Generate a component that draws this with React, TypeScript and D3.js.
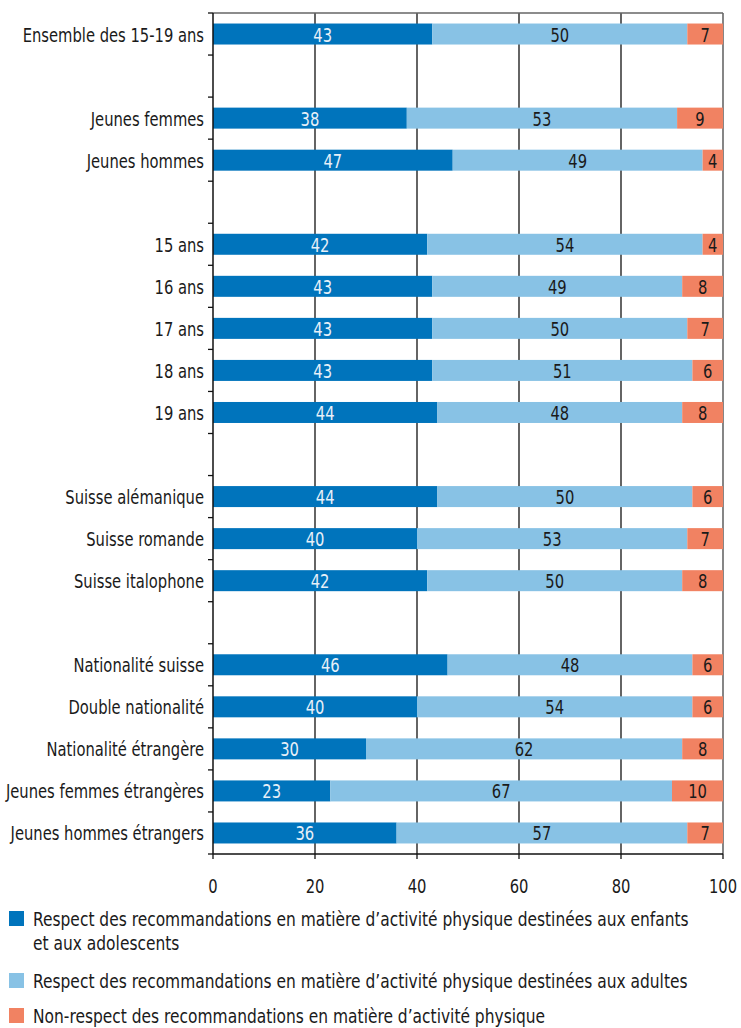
import React from "react";
import * as d3 from "d3";

const categories = [
  "Ensemble des 15-19 ans",
  "",
  "Jeunes femmes",
  "Jeunes hommes",
  "",
  "15 ans",
  "16 ans",
  "17 ans",
  "18 ans",
  "19 ans",
  "",
  "Suisse alémanique",
  "Suisse romande",
  "Suisse italophone",
  "",
  "Nationalité suisse",
  "Double nationalité",
  "Nationalité étrangère",
  "Jeunes femmes étrangères",
  "Jeunes hommes étrangers",
];
const enfants = [43, null, 38, 47, null, 42, 43, 43, 43, 44, null, 44, 40, 42, null, 46, 40, 30, 23, 36];
const adultes = [50, null, 53, 49, null, 54, 49, 50, 51, 48, null, 50, 53, 50, null, 48, 54, 62, 67, 57];
const nonRespect = [7, null, 9, 4, null, 4, 8, 7, 6, 8, null, 6, 7, 8, null, 6, 6, 8, 10, 7];
const xTicks = [0, 20, 40, 60, 80, 100];
const seriesNames = [
  ["Respect des recommandations en matière d’activité physique destinées aux enfants", "et aux adolescents"],
  ["Respect des recommandations en matière d’activité physique destinées aux adultes"],
  ["Non-respect des recommandations en matière d’activité physique"],
];
const colors = ["#0074BC", "#88C2E5", "#F18262"];
const labelColors = ["#E8F0F8", "#1a1a1a", "#1a1a1a"];

const FONT = "'DejaVu Sans Condensed', 'DejaVu Sans', sans-serif";

function T({ x, y, sx, anchor, fill, children }: { x: number; y: number; sx: number; anchor?: string; fill?: string; children: React.ReactNode }) {
  return (
    <text
      transform={`translate(${x},${y}) scale(${sx},1)`}
      textAnchor={anchor || "start"}
      fontSize={20}
      fill={fill || "#1a1a1a"}
    >
      {children}
    </text>
  );
}

export default function App() {
  const W = 741, H = 1028;
  const left = 213, right = 723, top = 13, bottom = 854;
  const x = d3.scaleLinear().domain([0, 100]).range([left, right]);
  const y = d3.scaleBand<number>().domain(d3.range(categories.length)).range([top, bottom]).paddingInner(0).paddingOuter(0);
  const bw = 21;
  const series = [enfants, adultes, nonRespect];
  const sxLab = 0.82, sxNum = 0.82, sxLeg = 0.86;

  return (
    <svg width={W} height={H} style={{ position: "absolute", left: 0, top: 0, fontFamily: FONT }}>
      <rect width={W} height={H} fill="#fff" />
      {/* gridlines */}
      {xTicks.slice(1).map((t) => (
        <line key={t} x1={x(t)} x2={x(t)} y1={top} y2={bottom} stroke={t === 100 ? "#444" : "#111"} strokeWidth={1.3} />
      ))}
      <line x1={left} x2={right} y1={top} y2={top} stroke="#666" strokeWidth={1.3} />
      {/* bars */}
      {categories.map((c, i) => {
        if (enfants[i] == null) return null;
        const yc = (y(i) as number) + y.bandwidth() / 2;
        let acc = 0;
        return (
          <g key={i}>
            {series.map((s, k) => {
              const v = s[i] as number;
              const x0 = x(acc);
              acc += v;
              const x1 = x(acc);
              return (
                <g key={k}>
                  <rect x={x0} y={yc - bw / 2} width={x1 - x0} height={bw} fill={colors[k]} />
                  <T x={(x0 + x1) / 2} y={yc + 7.5} sx={sxNum} anchor="middle" fill={labelColors[k]}>
                    {v}
                  </T>
                </g>
              );
            })}
            <T x={left - 9} y={yc + 7.5} sx={sxLab} anchor="end">
              {c}
            </T>
          </g>
        );
      })}
      {/* left axis */}
      <line x1={left} x2={left} y1={top} y2={bottom} stroke="#111" strokeWidth={1.5} />
      {d3.range(categories.length + 1).map((i) => {
        const yy = top + i * y.step();
        return <line key={i} x1={left - 5} x2={left} y1={yy} y2={yy} stroke="#111" strokeWidth={1.3} />;
      })}
      {/* bottom axis */}
      <line x1={left} x2={right} y1={bottom} y2={bottom} stroke="#111" strokeWidth={1.5} />
      {xTicks.map((t) => (
        <g key={t}>
          <line x1={x(t)} x2={x(t)} y1={bottom} y2={bottom + 5} stroke="#111" strokeWidth={1.3} />
          <T x={x(t)} y={bottom + 39} sx={sxNum} anchor="middle">
            {t}
          </T>
        </g>
      ))}
      {/* legend */}
      {seriesNames.map((lines, k) => {
        const ly = [926, 988, 1023][k];
        return (
          <g key={k}>
            <rect x={9} y={ly - 15} width={15} height={15} fill={colors[k]} />
            {lines.map((ln, j) => (
              <T key={j} x={33} y={ly + j * 24} sx={sxLeg}>
                {ln}
              </T>
            ))}
          </g>
        );
      })}
    </svg>
  );
}
